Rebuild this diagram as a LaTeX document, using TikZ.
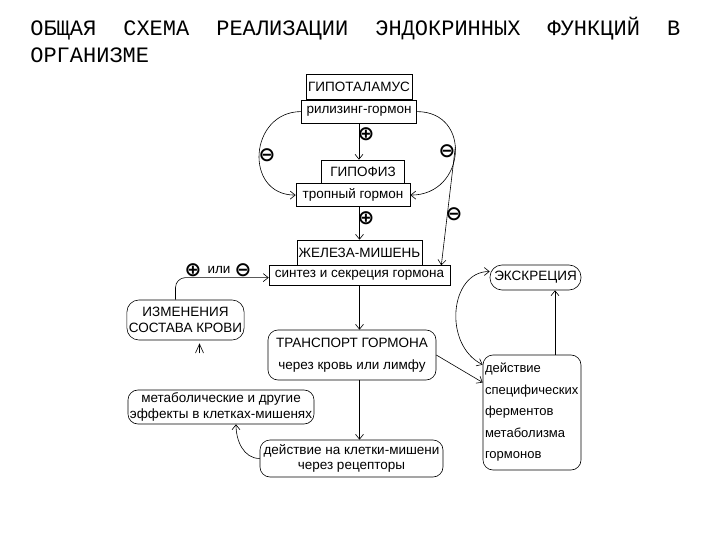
\documentclass[tikz,border=0pt]{standalone}
\usepackage{fontspec}
\setmainfont{Liberation Sans}
\newfontfamily\titlefont{Liberation Mono}
\newfontfamily\signfont{DejaVu Sans}
\usepackage{tikz}
\usetikzlibrary{arrows.meta, positioning}
\newcommand{\dfont}{\fontsize{13.5}{15.5}\selectfont}

\begin{document}
\begin{tikzpicture}[x=1pt, y=-1pt, line width=0.6pt,
    >={Straight Barb[length=5pt, width=8pt]},
    sqbox/.style={draw, rectangle, font=\dfont, inner sep=1pt},
    rndbox/.style={draw, rounded corners=10pt, font=\dfont, align=center, inner sep=2pt},
    sign/.style={font=\signfont\bfseries\fontsize{20}{20}\selectfont, inner sep=0pt}]
\useasboundingbox (0,0) rectangle (720,540);

\node[anchor=base west, inner sep=0pt, font=\titlefont\fontsize{22}{22}\selectfont] (title1) at (30,36)
    {\makebox[650pt][s]{ОБЩАЯ\hfill СХЕМА\hfill РЕАЛИЗАЦИИ\hfill ЭНДОКРИННЫХ\hfill ФУНКЦИЙ\hfill В}};
\node[anchor=base west, inner sep=0pt, font=\titlefont\fontsize{22}{22}\selectfont] (title2) at (30,63) {ОРГАНИЗМЕ};

\node[sqbox, minimum width=106pt, minimum height=25pt] (hypo) at (359,87) {ГИПОТАЛАМУС};
\node[sqbox, minimum width=115pt, minimum height=23pt, below=0pt of hypo] (rel) {рилизинг-гормон};
\node[sqbox, minimum width=83pt, minimum height=23pt] (hyp) at (363,171.5) {ГИПОФИЗ};
\node[sqbox, minimum width=114pt, minimum height=23pt, below=0pt of hyp, xshift=-10pt] (trop) {тропный гормон};
\node[sqbox, minimum width=125pt, minimum height=25pt] (gland) at (359.5,252.5) {ЖЕЛЕЗА-МИШЕНЬ};
\node[sqbox, minimum width=181pt, minimum height=20pt, below=0pt of gland] (synth) {синтез и секреция гормона};

\node[rndbox, minimum width=117pt, minimum height=40pt, rounded corners=12pt] (krov) at (185.5,320) {ИЗМЕНЕНИЯ\\СОСТАВА КРОВИ};
\node[rndbox, minimum width=168pt, minimum height=50pt] (trans) at (352,355) {ТРАНСПОРТ ГОРМОНА\\[6pt]через кровь или лимфу};
\node[rndbox, minimum width=183pt, minimum height=37pt] (deist) at (351.5,458.5) {действие на клетки-мишени\\через рецепторы};
\node[rndbox, minimum width=184pt, minimum height=34pt] (metab) at (221,407) {метаболические и другие\\эффекты в клетках-мишенях};
\node[rndbox, minimum width=91pt, minimum height=25pt, rounded corners=12pt] (excr) at (535.5,277.5) {ЭКСКРЕЦИЯ};
\node[rndbox, text width=94pt, minimum height=115pt, align=left, font=\fontsize{13}{21.5}\selectfont] (ferm) at (532,412.5)
    {действие\\специфических\\ферментов\\метаболизма\\гормонов};

\draw[->] (rel.south) -- (rel.south |- hyp.north);
\draw[->] (gland.north |- trop.south) -- (gland.north);
\draw[->] (synth.south) -- (synth.south |- trans.north);
\draw[->] (synth.south |- trans.south) -- (synth.south |- deist.north);
\draw[->] (rel.west) to[out=180, in=180, looseness=1.6] (trop.west);
\draw[->] (rel.east) to[out=0, in=0, looseness=1.7] coordinate[pos=0.45] (arcR) (trop.east);
\draw[->] (arcR) -- ([xshift=-9pt]synth.north east);
\draw[->, rounded corners=10pt] ([xshift=-10pt]krov.north) |- ([yshift=-2pt]synth.west);
\draw[-{Straight Barb[length=9pt, width=8pt]}] ([xshift=14pt, yshift=-13pt]krov.south) -- ([xshift=14pt, yshift=-3pt]krov.south);
\draw[->] (deist.west) to[out=180, in=-90] ([xshift=15pt]metab.south);
\draw[->] (trans.east) -- ([yshift=30pt]ferm.west);
\draw[->] ([xshift=23pt]ferm.north) -- ([xshift=23pt]ferm.north |- excr.south);
\draw[<->] ([yshift=6pt]excr.west) .. controls +(-40,0) and +(-40,-20) .. ([yshift=-10pt]ferm.north west);

\node[sign] (relplus) at (366,134) {⊕};
\node[sign] (tropplus) at (366,218) {⊕};
\node[sign] (leftminus) at (267,155) {⊖};
\node[sign] (rightminus) at (447,151) {⊖};
\node[sign] (longminus) at (454,214) {⊖};
\node[sign] (krovplus) at (193,270) {⊕};
\node[font=\dfont, inner sep=0pt] (ili) at (219,270) {или};
\node[sign] (krovminus) at (243,270) {⊖};
\end{tikzpicture}
\end{document}
